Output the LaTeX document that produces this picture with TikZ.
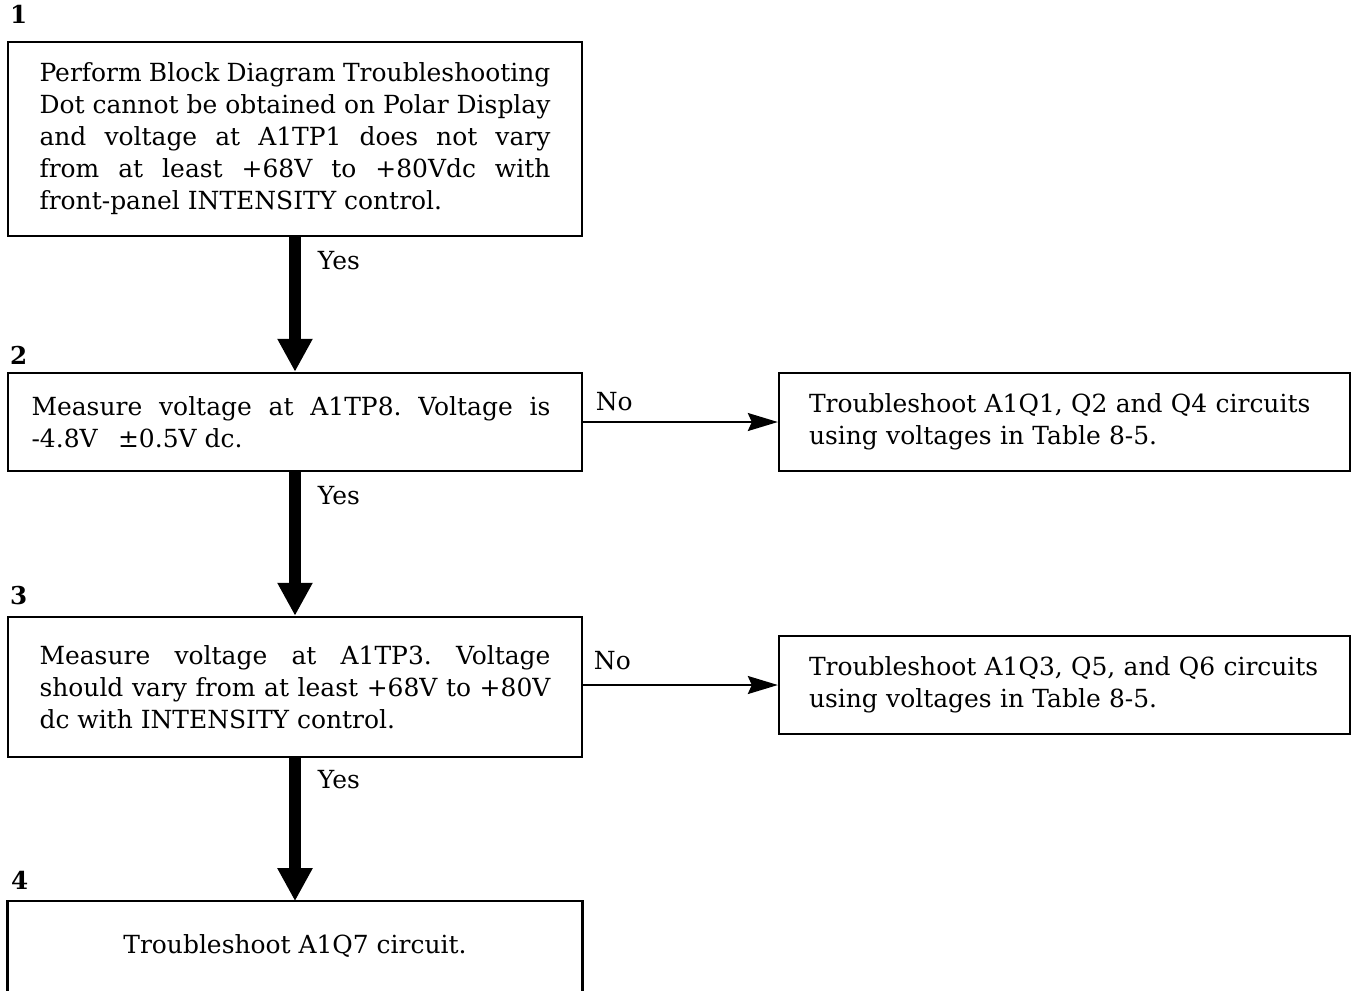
\documentclass[tikz,border=0pt]{standalone}
\usepackage{fontspec}
\setmainfont{DejaVu Serif}
\usepackage{tikz}
\usetikzlibrary{arrows.meta,positioning}
\frenchspacing

\tikzset{
  stepbox/.style={draw, line width=1.4pt, minimum width=11.48cm, text width=10.22cm,
    align=justify, inner sep=0pt},
  sidebox/.style={draw, line width=1.4pt, minimum width=11.42cm, minimum height=1.96cm,
    text width=10.22cm, align=left, inner sep=0pt},
  num/.style={anchor=south west, font=\fontsize{14}{18.2}\selectfont\bfseries, inner sep=0pt,
    xshift=0.06cm, yshift=0.22cm},
  yesarrow/.style={line width=0.24cm, -{Triangle[length=0.66cm,width=0.66cm]}},
  noarrow/.style={line width=1.1pt, -{Stealth[length=0.6cm,width=0.36cm,inset=0.08cm]}},
  lbl/.style={inner sep=0pt}
}

\begin{document}
\begin{tikzpicture}[x=0.02cm,y=-0.02cm,font=\fontsize{14.2}{18.2}\selectfont]
  \useasboundingbox (0,0) rectangle (1356,992);
  % linke Spalte
  \node[stepbox, minimum height=3.88cm] (b1) at (295,139) {%
    Perform Block Diagram Troubleshooting\linebreak
    Dot cannot be obtained on Polar Display\linebreak
    and voltage at A1TP1 does not vary\linebreak
    from at least +68V to +80Vdc with\linebreak
    front-panel INTENSITY control.};
  \node[stepbox, minimum height=1.96cm] (b2) at (295,422) {%
    \hspace*{-0.16cm}Measure voltage at A1TP8. Voltage is\linebreak
    \hspace*{-0.16cm}-4.8V\enspace{} ±0.5V dc.\par\vspace{0.1cm}};
  \node[stepbox, minimum height=2.8cm] (b3) at (295,687) {%
    Measure voltage at A1TP3. Voltage\linebreak
    should vary from at least +68V to +80V\linebreak
    dc with INTENSITY control.};
  \node[minimum width=11.48cm, minimum height=1.78cm, align=center, inner sep=0pt] (b4) at (295,946) {%
    Troubleshoot A1Q7 circuit.};
  \draw[line width=1.4pt] (b4.south west) -- (b4.north west) -- (b4.north east) -- (b4.south east);
  % Nummern
  \node[num, yshift=0.12cm] (n1) at (b1.north west) {1};
  \node[num, yshift=-0.08cm] (n2) at (b2.north west) {2};
  \node[num] (n3) at (b3.north west) {3};
  \node[num] (n4) at (b4.north west) {4};
  % rechte Spalte
  \node[sidebox] (r1) at (1064.5,422) {%
    Troubleshoot A1Q1, Q2 and Q4 circuits\\
    using voltages in Table 8-5.};
  \node[sidebox] (r2) at (1064.5,685) {%
    Troubleshoot A1Q3, Q5, and Q6 circuits\\
    using voltages in Table 8-5.};
  % Pfeile
  \draw[yesarrow] (b1) -- node[lbl, pos=0.17, anchor=west, xshift=0.34cm] {Yes} (b2);
  \draw[yesarrow] (b2) -- node[lbl, pos=0.16, anchor=west, xshift=0.34cm] {Yes} (b3);
  \draw[yesarrow] (b3) -- node[lbl, pos=0.15, anchor=west, xshift=0.34cm] {Yes} (b4);
  \draw[noarrow] (b2.east) -- node[lbl, pos=0.16, anchor=south, yshift=0.2cm] {No} (r1.west);
  \draw[noarrow] (b3.east |- r2.west) -- node[lbl, pos=0.15, anchor=south, yshift=0.28cm] {No} (r2.west);
\end{tikzpicture}
\end{document}
